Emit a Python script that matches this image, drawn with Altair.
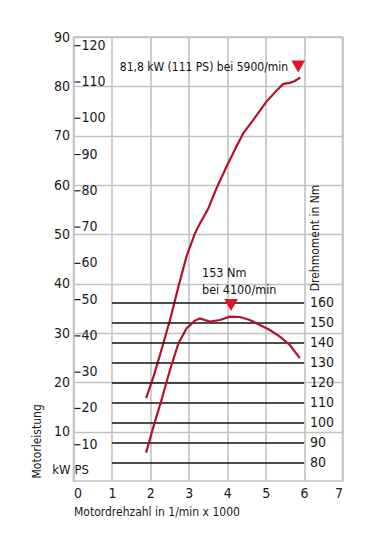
import altair as alt
import pandas as pd

# ---- data ----
rpm_ticks = [0, 1, 2, 3, 4, 5, 6, 7]
kw_ticks = [10, 20, 30, 40, 50, 60, 70, 80, 90]
ps_ticks = [10, 20, 30, 40, 50, 60, 70, 80, 90, 100, 110, 120]
nm_ticks = [80, 90, 100, 110, 120, 130, 140, 150, 160]

power_rpm = [1.89, 2.08, 2.29, 2.51, 2.73, 2.94, 3.16, 3.29, 3.51, 3.72, 3.98,
             4.24, 4.42, 4.68, 5.02, 5.28, 5.46, 5.63, 5.76, 5.9]
power_kw = [16.8, 21.1, 26.6, 32.6, 39.4, 45.5, 50.2, 52.2, 55.3, 59.3, 63.7,
            67.8, 70.5, 73.2, 76.9, 79.1, 80.5, 80.7, 81.1, 81.8]

torque_rpm = [1.89, 2.08, 2.29, 2.51, 2.73, 2.94, 3.16, 3.29, 3.55, 3.81, 4.07,
              4.33, 4.59, 4.85, 5.11, 5.37, 5.63, 5.89]
torque_nm = [85.2, 98.2, 111.5, 126.5, 139.8, 147.3, 151.2, 152.3, 150.7, 151.5, 153.2,
             153.0, 151.5, 149.0, 146.5, 143.2, 139.0, 132.4]

peak_power = {"rpm": [5.9], "kw": [81.8], "label": ["81,8 kW (111 PS) bei 5900/min"]}
peak_torque = {"rpm": [4.1], "nm": [153], "l1": ["153 Nm"], "l2": ["bei 4100/min"]}

FONT = "DejaVu Sans Condensed"
FS = 14
FS_SMALL = 12
RED = "#b5122e"
TRI = "#e0142d"
GRID = "#c2c2c2"
INK = "#1a1a1a"

W, H = 269, 444

x_scale = alt.Scale(domain=[0, 7], nice=False)
kw_scale = alt.Scale(domain=[0, 90], nice=False)
ps_scale = alt.Scale(domain=[0, 122.4], nice=False)
nm_scale = alt.Scale(domain=[71, 293], nice=False, zero=False)

power_df = pd.DataFrame({"rpm": power_rpm, "kw": power_kw})
torque_df = pd.DataFrame({"rpm": torque_rpm, "nm": torque_nm})
nm_df = pd.DataFrame({"nm": nm_ticks, "start": [1] * len(nm_ticks), "end": [6] * len(nm_ticks)})
ps_df = pd.DataFrame({"ps": ps_ticks})
pp_df = pd.DataFrame(peak_power)
pt_df = pd.DataFrame(peak_torque)

x_axis = alt.Axis(values=rpm_ticks, grid=True, gridColor=GRID, gridWidth=1.6,
                  labelFontSize=FS, labelPadding=5, labelFont=FONT, labelColor=INK,
                  labelOverlap=False,
                  title="Motordrehzahl in 1/min x 1000", titleFont=FONT, titleFontSize=FS_SMALL,
                  titleFontWeight="normal", titleColor=INK, titleAnchor="start",
                  titleAlign="left", titleX=0, titleY=34, titleBaseline="alphabetic")
y_axis = alt.Axis(values=kw_ticks, grid=True, gridColor=GRID, gridWidth=1.6,
                  labelFontSize=FS, labelPadding=4, labelFont=FONT, labelColor=INK,
                  labelOverlap=False,
                  title="Motorleistung", titleFont=FONT, titleFontSize=FS_SMALL,
                  titleFontWeight="normal", titleColor=INK, titleAngle=270,
                  titleAlign="left", titleBaseline="middle", titleX=-37, titleY=441)


def X(field):
    return alt.X(field, scale=x_scale, axis=x_axis)


power_line = alt.Chart(power_df).mark_line(color=RED, strokeWidth=2.2).encode(
    x=X("rpm:Q"),
    y=alt.Y("kw:Q", scale=kw_scale, axis=y_axis),
)

nm_rules = alt.Chart(nm_df).mark_rule(color="#111", strokeWidth=1.3).encode(
    x=X("start:Q"), x2="end:Q",
    y=alt.Y("nm:Q", scale=nm_scale, axis=None),
)
nm_labels = alt.Chart(nm_df).mark_text(align="left", baseline="middle", dx=6,
                                       font=FONT, fontSize=FS, color=INK).encode(
    x=X("end:Q"),
    y=alt.Y("nm:Q", scale=nm_scale, axis=None),
    text="nm:Q",
)
torque_line = alt.Chart(torque_df).mark_line(color=RED, strokeWidth=2.2).encode(
    x=X("rpm:Q"),
    y=alt.Y("nm:Q", scale=nm_scale, axis=None),
)

ps_ticks_layer = alt.Chart(ps_df).mark_rule(color=INK, strokeWidth=1.2).encode(
    x=alt.value(1), x2=alt.value(7),
    y=alt.Y("ps:Q", scale=ps_scale, axis=None),
)
ps_labels = alt.Chart(ps_df).mark_text(align="left", baseline="middle",
                                       font=FONT, fontSize=FS, color=INK).encode(
    x=alt.value(8),
    y=alt.Y("ps:Q", scale=ps_scale, axis=None),
    text="ps:Q",
)

pp_tri = alt.Chart(pp_df).mark_point(shape="triangle-down", filled=True, opacity=1,
                                     color=TRI, size=190, yOffset=-11, xOffset=-2).encode(
    x=X("rpm:Q"), y=alt.Y("kw:Q", scale=kw_scale, axis=None))
pp_text = alt.Chart(pp_df).mark_text(align="right", baseline="middle", dx=-12, dy=-10,
                                     font=FONT, fontSize=FS_SMALL, color="#111").encode(
    x=X("rpm:Q"), y=alt.Y("kw:Q", scale=kw_scale, axis=None), text="label:N")

pt_tri = alt.Chart(pt_df).mark_point(shape="triangle-down", filled=True, opacity=1,
                                     color=TRI, size=190, yOffset=-12).encode(
    x=X("rpm:Q"), y=alt.Y("nm:Q", scale=nm_scale, axis=None))
pt_text1 = alt.Chart(pt_df).mark_text(align="left", baseline="middle", dx=-29, dy=-44,
                                      font=FONT, fontSize=12.5, color="#111").encode(
    x=X("rpm:Q"), y=alt.Y("nm:Q", scale=nm_scale, axis=None), text="l1:N")
pt_text2 = alt.Chart(pt_df).mark_text(align="left", baseline="middle", dx=-29, dy=-27,
                                      font=FONT, fontSize=12.5, color="#111").encode(
    x=X("rpm:Q"), y=alt.Y("nm:Q", scale=nm_scale, axis=None), text="l2:N")

kw_lbl = alt.Chart(pd.DataFrame({"t": ["kW"]})).mark_text(
    align="right", baseline="middle", font=FONT, fontSize=13, color=INK).encode(
    x=alt.value(-3), y=alt.value(433), text="t:N")
ps_lbl = alt.Chart(pd.DataFrame({"t": ["PS"]})).mark_text(
    align="left", baseline="middle", font=FONT, fontSize=13, color=INK).encode(
    x=alt.value(1), y=alt.value(433), text="t:N")
nm_title = alt.Chart(pd.DataFrame({"t": ["Drehmoment in Nm"]})).mark_text(
    align="center", baseline="middle", angle=270, font=FONT, fontSize=FS_SMALL, color=INK).encode(
    x=alt.value(241.5), y=alt.value(201), text="t:N")

chart = alt.layer(
    power_line, nm_rules, nm_labels, torque_line, ps_ticks_layer, ps_labels,
    pp_tri, pp_text, pt_tri, pt_text1, pt_text2, kw_lbl, ps_lbl, nm_title
).resolve_scale(y="independent").properties(
    width=W, height=H,
    padding={"left": 65.5, "top": 29, "right": 28, "bottom": 50},
    autosize=alt.AutoSizeParams(type="none"),
    background="white",
).configure_view(stroke=GRID, strokeWidth=1.6).configure_axis(domain=False, ticks=False)

chart.save("out.html", embed_options={"renderer": "svg", "actions": False})
